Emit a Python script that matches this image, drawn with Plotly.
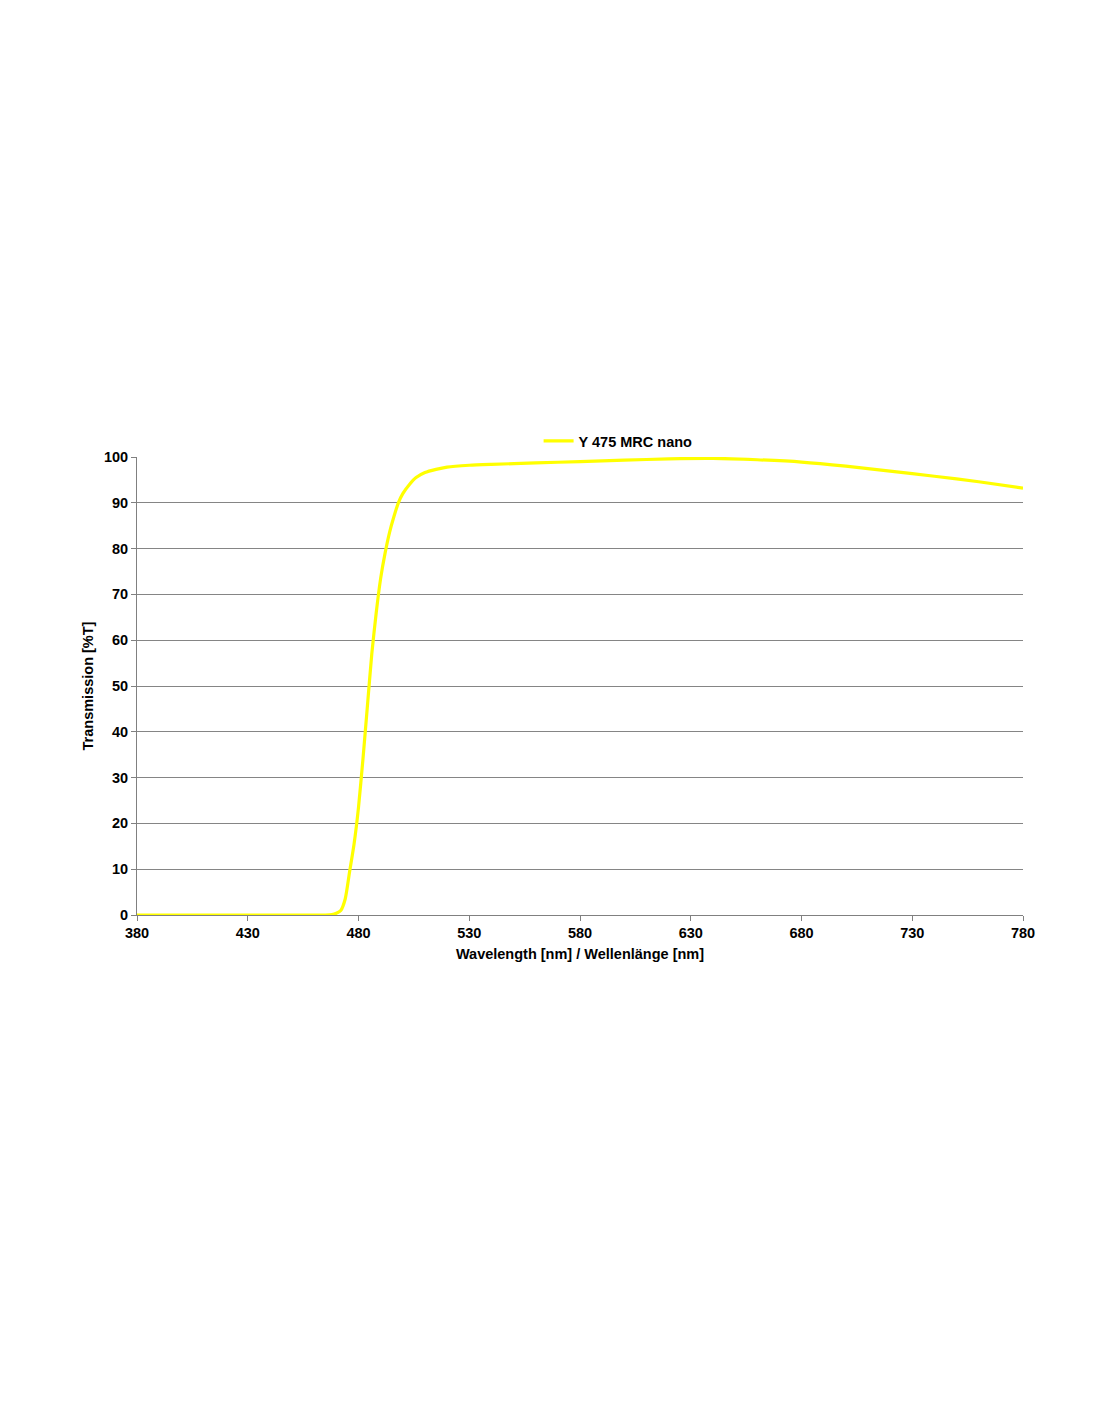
import plotly.graph_objects as go

wavelength = [380, 400, 420, 440, 460, 465, 468, 470, 472, 474, 476, 478, 480, 482, 484,
              486, 488, 490, 492, 494, 496, 498, 500, 503, 506, 510, 515, 520, 530, 540,
              560, 580, 600, 620, 640, 660, 680, 700, 720, 740, 760, 780]
transmission = [0, 0, 0, 0, 0, 0, 0.1, 0.4, 1.0, 3.5, 9.5, 15.5, 23.5, 34, 45.5,
                57, 66, 73.5, 79, 83.5, 87, 90, 92, 94, 95.5, 96.6, 97.3, 97.8, 98.2, 98.4,
                98.7, 99.0, 99.3, 99.6, 99.7, 99.4, 98.9, 98.0, 96.9, 95.8, 94.6, 93.2]
series_name = "Y 475 MRC nano"
x_ticks = [380, 430, 480, 530, 580, 630, 680, 730, 780]
y_ticks = [0, 10, 20, 30, 40, 50, 60, 70, 80, 90, 100]

font_family = "Liberation Sans, Arial, sans-serif"
fs = 14.5

fig = go.Figure()
fig.add_trace(go.Scatter(
    x=wavelength, y=transmission, mode="lines", name=series_name,
    line=dict(color="#FFFF00", width=3.2, shape="spline", smoothing=0.6),
))

fig.update_layout(
    width=1100, height=1422,
    margin=dict(l=129, r=85, t=449, b=515),
    paper_bgcolor="white", plot_bgcolor="white",
    font=dict(family=font_family, size=fs, color="black", weight="bold"),
    showlegend=True,
    legend=dict(x=0.543, xanchor="center", y=1.0, yanchor="bottom",
                orientation="h", font=dict(size=fs, weight="bold"),
                bgcolor="rgba(0,0,0,0)"),
)
fig.update_xaxes(
    range=[380, 780], tickvals=x_ticks, ticks="outside", ticklen=5,
    tickcolor="#808080", showline=True, linecolor="#808080", linewidth=1,
    showgrid=False, zeroline=False,
    title=dict(text="Wavelength [nm] / Wellenlänge [nm]", standoff=8,
               font=dict(size=fs, weight="bold")),
    tickfont=dict(size=fs, weight="bold"),
)
fig.update_yaxes(
    range=[0, 100], tickvals=y_ticks, ticks="outside", ticklen=5,
    tickcolor="#808080", showline=True, linecolor="#808080", linewidth=1,
    showgrid=True, gridcolor="#858585", gridwidth=1.2, zeroline=False,
    title=dict(text="Transmission [%T]", standoff=6,
               font=dict(size=fs, weight="bold")),
    tickfont=dict(size=fs, weight="bold"),
)

fig.write_html("out.html")
